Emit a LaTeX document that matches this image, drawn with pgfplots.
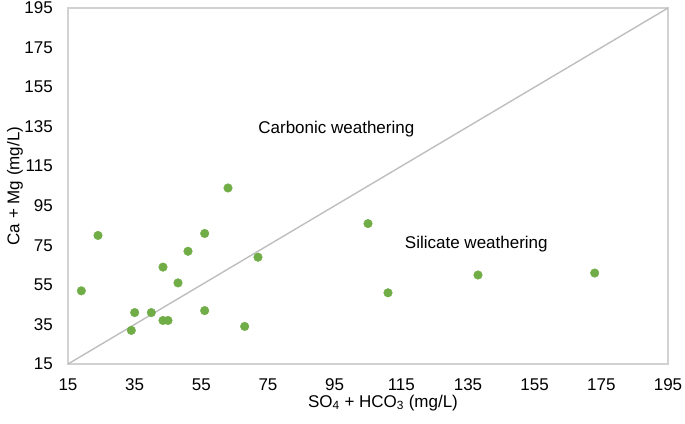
\documentclass[border=0pt]{standalone}
\usepackage{pgfplots}
\pgfplotsset{compat=1.18}
\usepackage{fontspec}
\setmainfont{Liberation Sans}
\definecolor{ptgreen}{RGB}{112,173,71}
\definecolor{framegray}{RGB}{210,210,210}
\definecolor{linegray}{RGB}{190,190,190}
\begin{document}
\begin{tikzpicture}
\begin{axis}[
  scale only axis,
  width=600pt, height=356pt,
  xmin=15, xmax=195, ymin=15, ymax=195,
  xtick={15,35,...,195}, ytick={15,35,...,195},
  tick style={draw=none},
  axis line style={framegray, line width=1.3pt},
  tick label style={font=\fontsize{17}{20}\selectfont, inner sep=0pt},
  /pgf/number format/assume math mode=true,
  xticklabel style={anchor=center, yshift=-21pt},
  yticklabel style={anchor=east, xshift=-15pt},
  xlabel={SO\textsubscript{4} + HCO\textsubscript{3} (mg/L)},
  ylabel={Ca + Mg (mg/L)},
  every axis x label/.style={at={(axis description cs:0.5,0)}, anchor=center, yshift=-39pt, xshift=15pt, font=\fontsize{17}{20}\selectfont, inner sep=0pt},
  every axis y label/.style={at={(axis description cs:0,0.5)}, rotate=90, anchor=center, yshift=53pt, font=\fontsize{17}{20}\selectfont, inner sep=0pt},
  clip=false,
]
\addplot[color=linegray, line width=1.4pt] coordinates {(15,15) (195,195)};
\addplot[only marks, mark=*, mark size=4.3pt, color=ptgreen, mark options={draw=ptgreen, fill=ptgreen}] coordinates {
(19,52) (24,80) (34,32) (35,41) (40,41) (43.5,64) (43.5,37) (45,37)
(48,56) (51,72) (56,81) (56,42) (63,104) (68,34) (72,69)
(105,86) (111,51) (138,60) (173,61)
};
\node[font=\fontsize{17}{20}\selectfont] at (axis cs:95.5,134) {Carbonic weathering};
\node[font=\fontsize{17}{20}\selectfont] at (axis cs:137.5,75.5) {Silicate weathering};
\end{axis}
\pgfresetboundingbox
\useasboundingbox (-68pt,-59pt) rectangle (617pt,364pt);
\end{tikzpicture}
\end{document}
